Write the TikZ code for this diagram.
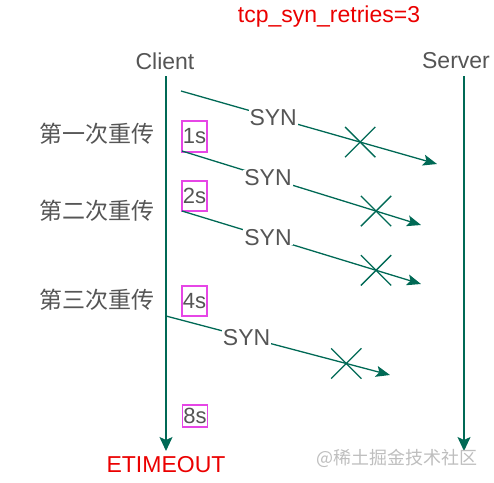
\documentclass[tikz,border=0pt]{standalone}
\usepackage{fontspec}
\setmainfont{Liberation Sans}
\newfontfamily\cjk{Noto Sans CJK SC}
\usetikzlibrary{arrows.meta,shapes.misc}
\definecolor{lnc}{RGB}{0,105,85}
\definecolor{txt}{RGB}{85,85,85}
\definecolor{mag}{RGB}{230,70,230}
\definecolor{wm}{RGB}{190,190,190}
\definecolor{rd}{RGB}{235,0,0}
\tikzset{
  lbl/.style={text=txt, font=\fontsize{23}{26}\selectfont, inner sep=0pt},
  cjklbl/.style={text=txt, font=\cjk\fontsize{23}{26}\selectfont, inner sep=0pt},
  redlbl/.style={text=rd, font=\fontsize{23}{26}\selectfont, inner sep=0pt},
  life/.style={draw=lnc, line width=1.5pt, -{Stealth[length=14pt,width=13pt,inset=3pt]}},
  syn/.style={draw=lnc, line width=1.3pt, -{Stealth[length=14pt,width=11pt,inset=3pt]}},
  synlbl/.style={lbl, fill=white, inner xsep=1pt, inner ysep=0pt, pos=0.36},
  lost/.style={draw=lnc, line width=1.3pt, cross out, inner sep=0pt, minimum width=29pt, minimum height=29pt},
  tbox/.style={draw=mag, line width=1.2pt, text=txt, font=\fontsize{22}{24}\selectfont, inner sep=0pt, minimum width=25pt}
}
\begin{document}
\begin{tikzpicture}[x=1pt,y=-1pt]
\useasboundingbox (0,0) rectangle (494,482);
% title
\node[redlbl] (title) at (329,17) {tcp\_syn\_retries=3};
% participants
\node[lbl] (client) at (165,61) {Client};
\node[lbl] (server) at (456,61) {Server};
\coordinate (ctop) at (166,76);
\coordinate (cbot) at (166,451);
\coordinate (stop) at (464,76);
\coordinate (sbot) at (464,451);
\draw[life] (ctop) -- (cbot);
\draw[life] (stop) -- (sbot);
% retransmission labels
\node[cjklbl] (r1) at (97,134) {第一次重传};
\node[cjklbl] (r2) at (97,211) {第二次重传};
\node[cjklbl] (r3) at (97,300) {第三次重传};
% timer boxes
\node[tbox, minimum height=31pt] (t1) at (194.5,136.5) {1s};
\node[tbox, minimum height=30pt] (t2) at (194.5,196) {2s};
\node[tbox, minimum height=30pt] (t3) at (194.5,301) {4s};
\node[tbox, minimum height=22pt] (t4) at (195,416) {8s};
% SYN arrows
\coordinate (s1) at (181,91);  \coordinate (e1) at (437,164);
\coordinate (s2) at (182,151); \coordinate (e2) at (421,225);
\coordinate (s3) at (182,211); \coordinate (e3) at (421,284);
\coordinate (s4) at (166,316); \coordinate (e4) at (390,375);
\draw[syn] (s1) -- node[synlbl] (l1) {SYN} (e1);
\draw[syn] (s2) -- node[synlbl] (l2) {SYN} (e2);
\draw[syn] (s3) -- node[synlbl] (l3) {SYN} (e3);
\draw[syn] (s4) -- node[synlbl] (l4) {SYN} (e4);
% lost marks
\path (s1) -- node[lost, pos=0.70] (x1) {} (e1);
\path (s2) -- node[lost, pos=0.812] (x2) {} (e2);
\path (s3) -- node[lost, pos=0.812] (x3) {} (e3);
\path (s4) -- node[lost, pos=0.805] (x4) {} (e4);
% bottom
\node[redlbl] (etimeout) at (166,465) {ETIMEOUT};
\node[text=wm, font=\cjk\fontsize{18}{20}\selectfont, inner sep=0pt] (wmk) at (397,458) {@稀土掘金技术社区};
\end{tikzpicture}
\end{document}
